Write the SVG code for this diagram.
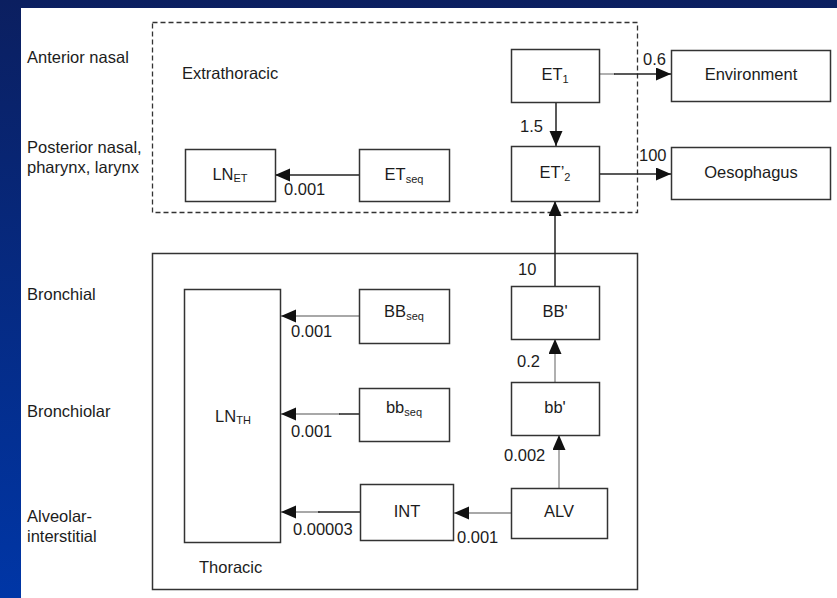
<svg xmlns="http://www.w3.org/2000/svg" width="837" height="598" viewBox="0 0 837 598">
<defs>
<linearGradient id="bg" x1="0" y1="0" x2="0" y2="1">
<stop offset="0" stop-color="#0b1f60"/>
<stop offset="1" stop-color="#0036a6"/>
</linearGradient>
<marker id="ah" markerUnits="userSpaceOnUse" markerWidth="16" markerHeight="14" refX="15" refY="6.5" orient="auto">
<path d="M0,0 L15,6.5 L0,13 z" fill="#111"/>
</marker>
<style>
text{font-family:"Liberation Sans",Arial,sans-serif;font-size:16.5px;fill:#1c1c1c}
.c{text-anchor:middle}
.box{fill:#fff;stroke:#333;stroke-width:1.5}
.ln{stroke:#222;stroke-width:1.5;fill:none}
.gl{stroke:#a8a8a8;stroke-width:1.8;fill:none}
.s{font-size:11px}
</style>
</defs>
<rect x="0" y="0" width="837" height="598" fill="url(#bg)"/>
<rect x="21" y="8" width="816" height="590" fill="#fff"/>

<g id="region-labels">
<text x="27" y="63">Anterior nasal</text>
<text x="27" y="153">Posterior nasal,</text>
<text x="27" y="173">pharynx, larynx</text>
<text x="27" y="300">Bronchial</text>
<text x="27" y="417">Bronchiolar</text>
<text x="27" y="522">Alveolar-</text>
<text x="27" y="542">interstitial</text>
</g>

<g id="extrathoracic">
<rect x="152.5" y="22.5" width="485" height="190" fill="none" stroke="#333" stroke-width="1.3" stroke-dasharray="5,3"/>
<text x="182" y="79">Extrathoracic</text>
</g>
<g id="thoracic">
<rect x="152.5" y="253.5" width="485" height="336" fill="none" stroke="#333" stroke-width="1.5"/>
<text x="199" y="573">Thoracic</text>
</g>

<g id="connectors">
<line class="gl" x1="599" y1="74" x2="615" y2="74"/>
<line class="ln" x1="614" y1="74" x2="671" y2="74" marker-end="url(#ah)"/>
<line class="ln" x1="556" y1="102" x2="556" y2="146" marker-end="url(#ah)"/>
<line class="ln" x1="599" y1="174" x2="671" y2="174" marker-end="url(#ah)"/>
<line class="ln" x1="359" y1="175" x2="275" y2="175" marker-end="url(#ah)"/>
<line class="ln" x1="555" y1="286" x2="555" y2="201" marker-end="url(#ah)"/>
<line class="gl" x1="359" y1="316" x2="281" y2="316" marker-end="url(#ah)"/>
<line class="gl" x1="340" y1="414" x2="281" y2="414" marker-end="url(#ah)"/>
<line class="ln" x1="359" y1="414" x2="339" y2="414"/>
<line class="gl" x1="555" y1="382" x2="555" y2="339" marker-end="url(#ah)"/>
<line class="gl" x1="559" y1="488" x2="559" y2="435" marker-end="url(#ah)"/>
<line class="gl" x1="511" y1="513" x2="454" y2="513" marker-end="url(#ah)"/>
<line class="gl" x1="320" y1="512" x2="281" y2="512" marker-end="url(#ah)"/>
<line class="ln" x1="360" y1="512" x2="318" y2="512"/>
<text x="643" y="65">0.6</text>
<text x="520" y="132">1.5</text>
<text x="639" y="161">100</text>
<text x="284" y="195">0.001</text>
<text x="518" y="275">10</text>
<text x="291" y="337">0.001</text>
<text x="517" y="367">0.2</text>
<text x="291" y="437">0.001</text>
<text x="504" y="461">0.002</text>
<text x="293" y="535">0.00003</text>
<text x="457" y="543">0.001</text>
</g>

<g id="ET1"><rect class="box" x="511.5" y="49.5" width="88" height="53"/><text class="c" x="555" y="80">ET<tspan class="s" dy="3">1</tspan></text></g>
<g id="Environment"><rect class="box" x="671.5" y="50.5" width="159" height="51"/><text class="c" x="751" y="80">Environment</text></g>
<g id="ET2"><rect class="box" x="511.5" y="146.5" width="88" height="55"/><text class="c" x="555" y="178">ET’<tspan class="s" dy="3">2</tspan></text></g>
<g id="Oesophagus"><rect class="box" x="671.5" y="147.5" width="159" height="52"/><text class="c" x="751" y="178">Oesophagus</text></g>
<g id="LNET"><rect class="box" x="185.5" y="149.5" width="90" height="52"/><text class="c" x="230" y="180">LN<tspan class="s" dy="2">ET</tspan></text></g>
<g id="ETseq"><rect class="box" x="359.5" y="149.5" width="90" height="52"/><text class="c" x="404" y="180">ET<tspan class="s" dy="3">seq</tspan></text></g>
<g id="LNTH"><rect class="box" x="184.5" y="289.5" width="96" height="253"/><text class="c" x="233" y="422">LN<tspan class="s" dy="2">TH</tspan></text></g>
<g id="BBseq"><rect class="box" x="359.5" y="289.5" width="90" height="54"/><text class="c" x="404" y="317">BB<tspan class="s" dy="3">seq</tspan></text></g>
<g id="BBprime"><rect class="box" x="511.5" y="286.5" width="88" height="53"/><text class="c" x="555" y="317">BB'</text></g>
<g id="bbseq"><rect class="box" x="359.5" y="388.5" width="90" height="53"/><text class="c" x="404" y="413">bb<tspan class="s" dy="3">seq</tspan></text></g>
<g id="bbprime"><rect class="box" x="511.5" y="382.5" width="88" height="53"/><text class="c" x="555" y="413">bb'</text></g>
<g id="INT"><rect class="box" x="360.5" y="484.5" width="93" height="56"/><text class="c" x="407" y="517">INT</text></g>
<g id="ALV"><rect class="box" x="511.5" y="488.5" width="96" height="50"/><text class="c" x="559" y="517">ALV</text></g>
</svg>
